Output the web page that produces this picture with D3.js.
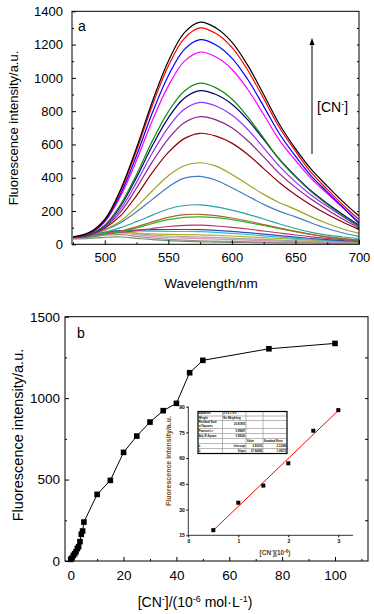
<!DOCTYPE html>
<html lang="en">
<head>
<meta charset="UTF-8">
<script src="https://d3js.org/d3.v7.min.js"></script>
<title>CN titration</title>
<style>
  body { margin: 0; background: #fff; }
  text { font-family: "Liberation Sans", Arial, sans-serif; fill: #000; }
</style>
</head>
<body>
<svg id="chart"></svg>
<script>
// ---- data: panel a (spectra, low [CN-] first) ----
const wavelengths = [475, 487.5, 500, 512.5, 525, 537.5, 550, 562.5, 575, 587.5, 600, 612.5, 625, 637.5, 650, 662.5, 675, 687.5, 700];
const spectrumColors = ["#6f8f6f", "#9a8f80", "#e090b0", "#a0a0a0", "#b0b030", "#30c0d0", "#3050b0", "#c0306f",
  "#20c020", "#b06030", "#30a0a0", "#4080c0", "#a0a020", "#900000", "#902090", "#9030ff", "#000070", "#109010",
  "#ff00ff", "#0000ff", "#ff0000", "#000000"];
const spectra = [
  [32, 36, 42, 44, 36, 28, 22, 18, 15, 13, 12, 11, 10, 9, 8, 8, 7, 7, 6],
  [34, 42, 55, 58, 48, 38, 30, 25, 21, 19, 17, 15, 13, 12, 11, 10, 9, 8, 7],
  [36, 48, 64, 68, 58, 48, 41, 37, 34, 31, 28, 25, 22, 19, 16, 14, 12, 10, 9],
  [38, 52, 72, 76, 66, 56, 50, 46, 44, 41, 37, 33, 29, 25, 21, 18, 15, 13, 11],
  [40, 52, 70, 74, 68, 63, 60, 58, 57, 54, 50, 45, 40, 35, 30, 25, 20, 16, 13],
  [40, 52, 74, 82, 80, 79, 78, 77, 76, 72, 66, 59, 51, 43, 36, 29, 23, 18, 14],
  [40, 50, 70, 82, 86, 88, 89, 89, 88, 84, 78, 70, 61, 52, 43, 35, 28, 22, 17],
  [40, 48, 62, 72, 82, 95, 107, 114, 115, 110, 102, 92, 80, 68, 56, 45, 36, 28, 22],
  [40, 47, 62, 76, 98, 125, 148, 162, 165, 160, 148, 132, 113, 94, 76, 59, 45, 34, 25],
  [40, 48, 65, 80, 105, 135, 162, 178, 180, 172, 158, 140, 118, 97, 78, 60, 45, 34, 25],
  [42, 50, 72, 100, 136, 175, 212, 233, 237, 225, 205, 180, 152, 122, 95, 72, 55, 44, 35],
  [42, 52, 85, 130, 195, 270, 345, 398, 408, 385, 340, 290, 240, 198, 165, 128, 95, 68, 48],
  [42, 52, 88, 140, 225, 322, 412, 472, 490, 470, 420, 360, 300, 250, 210, 165, 125, 92, 66],
  [42, 54, 97, 172, 293, 432, 552, 635, 667, 650, 608, 540, 455, 370, 298, 235, 180, 132, 88],
  [42, 55, 103, 195, 338, 497, 634, 730, 767, 748, 700, 622, 525, 425, 342, 270, 208, 150, 98],
  [42, 56, 108, 213, 372, 550, 703, 811, 853, 831, 777, 690, 580, 468, 375, 295, 228, 165, 105],
  [42, 57, 112, 230, 402, 594, 760, 877, 923, 900, 842, 748, 630, 510, 410, 320, 245, 178, 115],
  [42, 58, 115, 240, 420, 623, 797, 920, 968, 940, 873, 765, 638, 508, 405, 315, 240, 170, 108],
  [42, 62, 135, 290, 505, 746, 952, 1099, 1155, 1125, 1052, 930, 780, 625, 505, 395, 305, 220, 135],
  [42, 64, 140, 304, 534, 792, 1013, 1170, 1230, 1198, 1119, 990, 829, 663, 530, 410, 315, 220, 125],
  [42, 66, 148, 321, 564, 837, 1071, 1236, 1300, 1266, 1183, 1046, 876, 700, 560, 430, 330, 235, 150],
  [45, 70, 150, 330, 580, 860, 1100, 1270, 1335, 1300, 1215, 1075, 900, 720, 575, 450, 350, 255, 170]
];

// ---- data: panel b ----
const concentrations = [0, 0.5, 1, 1.5, 2, 2.5, 3, 3.5, 4, 4.5, 5, 10, 15, 20, 25, 30, 35, 40, 45, 50, 75, 100];
const intensities = [10, 18, 34, 44, 57, 76, 88, 119, 164, 184, 239, 409, 495, 667, 767, 853, 923, 968, 1156, 1232, 1303, 1336];
const insetX = [0.5, 1, 1.5, 2, 2.5, 3];
const insetY = [18, 34, 44, 57, 76, 88];

const width = 374, height = 614;
const svg = d3.select("#chart").attr("width", width).attr("height", height);
const fmt = d3.format("d");

function frame(x0, y0, x1, y1) {
  svg.append("rect").attr("x", x0).attr("y", y0).attr("width", x1 - x0).attr("height", y1 - y0)
    .attr("fill", "none").attr("stroke", "#000").attr("stroke-width", 1);
}
function styleAxis(g, fs) {
  g.select(".domain").remove();
  g.selectAll("line").attr("stroke", "#000");
  g.selectAll("text").style("font-size", fs + "px");
}

// ================= panel a =================
const ax = { l: 72, r: 359, t: 11.3, b: 244.3 };
const xA = d3.scaleLinear().domain([475, 700]).range([73, ax.r]);
const yA = d3.scaleLinear().domain([0, 1400]).range([ax.b, ax.t]);

const line = d3.line().x((d, i) => xA(wavelengths[i])).y(d => yA(d)).curve(d3.curveCatmullRom.alpha(0.5));
const curves = svg.append("g");
spectra.forEach((s, k) => {
  curves.append("path").attr("d", line(s)).attr("fill", "none")
    .attr("stroke", spectrumColors[k]).attr("stroke-width", 1.2);
});

svg.append("g").attr("transform", `translate(0,${ax.b})`)
  .call(d3.axisBottom(xA).tickValues([500, 550, 600, 650, 700]).tickFormat(fmt).tickSize(-4).tickPadding(8))
  .call(g => styleAxis(g, 13));
svg.append("g").attr("transform", `translate(0,${ax.b})`)
  .call(d3.axisBottom(xA).tickValues([475, 525, 575, 625, 675]).tickSize(-2).tickFormat(""))
  .call(g => styleAxis(g, 13));
svg.append("g").attr("transform", `translate(${ax.l},0)`)
  .call(d3.axisLeft(yA).tickValues(d3.range(0, 1401, 200)).tickFormat(fmt).tickSize(-4).tickPadding(9))
  .call(g => styleAxis(g, 13));
svg.append("g").attr("transform", `translate(${ax.l},0)`)
  .call(d3.axisLeft(yA).tickValues(d3.range(100, 1400, 200)).tickSize(-2).tickFormat(""))
  .call(g => styleAxis(g, 13));
svg.append("g").attr("transform", `translate(${ax.r},0)`)
  .call(d3.axisRight(yA).tickValues(d3.range(100, 1400, 100)).tickSize(-2).tickFormat(""))
  .call(g => styleAxis(g, 13));
frame(ax.l, ax.t, ax.r, ax.b);

svg.append("text").attr("transform", "translate(13,128) rotate(-90)")
  .attr("text-anchor", "middle").attr("dominant-baseline", "central")
  .style("font-size", "13px").text("Fluorescence intensity/a.u.");
svg.append("text").attr("x", 211).attr("y", 288).attr("text-anchor", "middle")
  .style("font-size", "13.5px").text("Wavelength/nm");
svg.append("text").attr("x", 78).attr("y", 31).style("font-size", "14px").text("a");

// arrow + [CN-]
svg.append("line").attr("x1", 312).attr("x2", 312).attr("y1", 154).attr("y2", 44)
  .attr("stroke", "#000").attr("stroke-width", 1);
svg.append("path").attr("d", "M309.5,45 L312,38 L314.5,45 Z").attr("fill", "#000");
const cnA = svg.append("text").attr("x", 317).attr("y", 112).style("font-size", "14px");
cnA.append("tspan").text("[CN");
cnA.append("tspan").attr("dy", -5).style("font-size", "9px").text("-");
cnA.append("tspan").attr("dy", 5).text("]");

// ================= panel b =================
const bx = { l: 65, r: 368, t: 316.7, b: 561 };
const xB = d3.scaleLinear().domain([0, 100]).range([70.7, 335]);
const yB = d3.scaleLinear().domain([0, 1500]).range([bx.b, bx.t]);

svg.append("g").attr("transform", `translate(0,${bx.b})`)
  .call(d3.axisBottom(xB).tickValues(d3.range(0, 101, 20)).tickFormat(fmt).tickSize(-4).tickPadding(9))
  .call(g => styleAxis(g, 13.5));
svg.append("g").attr("transform", `translate(0,${bx.b})`)
  .call(d3.axisBottom(xB).tickValues([10, 30, 50, 70, 90, 110]).tickSize(-2).tickFormat(""))
  .call(g => styleAxis(g, 13.5));
svg.append("g").attr("transform", `translate(${bx.l},0)`)
  .call(d3.axisLeft(yB).tickValues([0, 500, 1000, 1500]).tickFormat(fmt).tickSize(-4).tickPadding(5))
  .call(g => styleAxis(g, 13.5));
svg.append("g").attr("transform", `translate(${bx.l},0)`)
  .call(d3.axisLeft(yB).tickValues([250, 750, 1250]).tickSize(-2).tickFormat(""))
  .call(g => styleAxis(g, 13.5));
svg.append("g").attr("transform", `translate(${bx.r},0)`)
  .call(d3.axisRight(yB).tickValues(d3.range(250, 1500, 250)).tickSize(-3).tickFormat(""))
  .call(g => styleAxis(g, 13.5));
frame(bx.l, bx.t, bx.r, bx.b);

const pts = concentrations.map((c, i) => [c, intensities[i]]);
svg.append("path").attr("d", d3.line().x(d => xB(d[0])).y(d => yB(d[1]))(pts))
  .attr("fill", "none").attr("stroke", "#000").attr("stroke-width", 1);
svg.append("g").selectAll("rect").data(pts).join("rect")
  .attr("x", d => xB(d[0]) - 2.8).attr("y", d => yB(d[1]) - 2.8)
  .attr("width", 5.6).attr("height", 5.6).attr("fill", "#000");

svg.append("text").attr("transform", "translate(18,435) rotate(-90)")
  .attr("text-anchor", "middle").attr("dominant-baseline", "central")
  .style("font-size", "14.5px").text("Fluorescence intensity/a.u.");
svg.append("text").attr("x", 77).attr("y", 338).style("font-size", "14px").text("b");
const cnB = svg.append("text").attr("x", 195).attr("y", 607).attr("text-anchor", "middle").style("font-size", "14px");
cnB.append("tspan").text("[CN");
cnB.append("tspan").attr("dy", -5).style("font-size", "9px").text("-");
cnB.append("tspan").attr("dy", 5).text("]/(10");
cnB.append("tspan").attr("dy", -5).style("font-size", "9px").text("-6");
cnB.append("tspan").attr("dy", 5).text(" mol·L");
cnB.append("tspan").attr("dy", -5).style("font-size", "9px").text("-1");
cnB.append("tspan").attr("dy", 5).text(")");

// ---- inset ----
const ix = { l: 188.3, r: 353, t: 406.7, b: 535.3 };
const xI = d3.scaleLinear().domain([0, 3]).range([ix.l, 338.3]);
const yI = d3.scaleLinear().domain([15, 90]).range([ix.b, ix.t]);
svg.append("g").attr("transform", `translate(0,${ix.b})`)
  .call(d3.axisBottom(xI).tickValues([0, 1, 2, 3]).tickFormat(fmt).tickSize(2).tickPadding(2))
  .call(g => { g.select(".domain").remove(); g.selectAll("line").attr("stroke", "#000");
    g.selectAll("text").style("font-size", "5px").style("font-weight", "bold"); });
svg.append("g").attr("transform", `translate(${ix.l},0)`)
  .call(d3.axisLeft(yI).tickValues([15, 30, 45, 60, 75, 90]).tickFormat(fmt).tickSize(2).tickPadding(1.5))
  .call(g => { g.select(".domain").remove(); g.selectAll("line").attr("stroke", "#000");
    g.selectAll("text").style("font-size", "5px").style("font-weight", "bold"); });
svg.append("path").attr("d", `M${ix.l},${ix.t}V${ix.b}H${ix.r}`).attr("fill", "none").attr("stroke", "#000").attr("stroke-width", 0.8);

// linear fit of the inset points
const n = insetX.length, mx = d3.mean(insetX), my = d3.mean(insetY);
const sxy = d3.sum(insetX, (x, i) => (x - mx) * (insetY[i] - my));
const sxx = d3.sum(insetX, x => (x - mx) ** 2);
const syy = d3.sum(insetY, y => (y - my) ** 2);
const slope = sxy / sxx, icpt = my - slope * mx;
const rss = d3.sum(insetX, (x, i) => (insetY[i] - icpt - slope * x) ** 2);
const r = sxy / Math.sqrt(sxx * syy);
const adjR2 = 1 - (1 - r * r) * (n - 1) / (n - 2);
const se = Math.sqrt(rss / (n - 2) / sxx);
const seI = Math.sqrt(rss / (n - 2) * (1 / n + mx * mx / sxx));

svg.append("line").attr("x1", xI(0.5)).attr("y1", yI(icpt + slope * 0.5))
  .attr("x2", xI(3)).attr("y2", yI(icpt + slope * 3)).attr("stroke", "#ff0000").attr("stroke-width", 1);
svg.append("g").selectAll("rect").data(insetX).join("rect")
  .attr("x", d => xI(d) - 2).attr("y", (d, i) => yI(insetY[i]) - 2)
  .attr("width", 4).attr("height", 4).attr("fill", "#000");

svg.append("text").attr("transform", "translate(168,461) rotate(-90)")
  .attr("text-anchor", "middle").attr("dominant-baseline", "central")
  .style("font-size", "7px").style("font-weight", "bold").style("fill", "#7a4a10")
  .text("Fluorescence intensity/a.u.");
const cnI = svg.append("text").attr("x", 275).attr("y", 555).attr("text-anchor", "middle")
  .style("font-size", "6.5px").style("font-weight", "bold").style("fill", "#5a3a10");
cnI.append("tspan").text("[CN");
cnI.append("tspan").attr("dy", -2.5).style("font-size", "4.5px").text("-");
cnI.append("tspan").attr("dy", 2.5).text("](10");
cnI.append("tspan").attr("dy", -2.5).style("font-size", "4.5px").text("-6");
cnI.append("tspan").attr("dy", 2.5).text(")");

// stats table
const tbl = svg.append("g").attr("transform", "translate(198,411.5)");
const colX = [0, 24.5, 48, 65, 89];
const rowY = [0, 4.5, 9, 17, 22, 27, 32, 37, 42];
const cells = [
  [["Equation"], ["y = a + b*x"], [], []],
  [["Weight"], ["No Weighting"], [], []],
  [["Residual Sum", "of Squares"], [rss.toFixed(5)], [], []],
  [["Pearson's r"], [r.toFixed(5)], [], []],
  [["Adj. R-Square"], [adjR2.toFixed(5)], [], []],
  [[], [], ["Value"], ["Standard Error"]],
  [["a"], ["Intercept"], [icpt.toFixed(5)], [seI.toFixed(5)]],
  [["b"], ["Slope"], [slope.toFixed(5)], [se.toFixed(5)]]
];
tbl.append("rect").attr("width", colX[4]).attr("height", rowY[8]).attr("fill", "#fff");
rowY.slice(1, -1).forEach(y => tbl.append("line").attr("x1", 0).attr("x2", colX[4]).attr("y1", y).attr("y2", y)
  .attr("stroke", "#888").attr("stroke-width", 0.6));
colX.slice(1, -1).forEach(x => tbl.append("line").attr("x1", x).attr("x2", x).attr("y1", 0).attr("y2", rowY[8])
  .attr("stroke", "#888").attr("stroke-width", 0.6));
tbl.append("rect").attr("width", colX[4]).attr("height", rowY[8]).attr("fill", "none")
  .attr("stroke", "#000").attr("stroke-width", 1.2);
cells.forEach((row, i) => row.forEach((lines, j) => {
  if (!lines.length) return;
  const right = j > 0 && i !== 0 && i !== 1 && i !== 5;
  const cy = (rowY[i] + rowY[i + 1]) / 2;
  lines.forEach((t, k) => {
    tbl.append("text").attr("x", right ? colX[j + 1] - 0.8 : colX[j] + 0.8)
      .attr("y", cy + (k - (lines.length - 1) / 2) * 3.2).attr("dominant-baseline", "central")
      .attr("text-anchor", right ? "end" : "start")
      .style("font-size", "2.7px").style("font-weight", "bold").text(t);
  });
}));
</script>
</body>
</html>
